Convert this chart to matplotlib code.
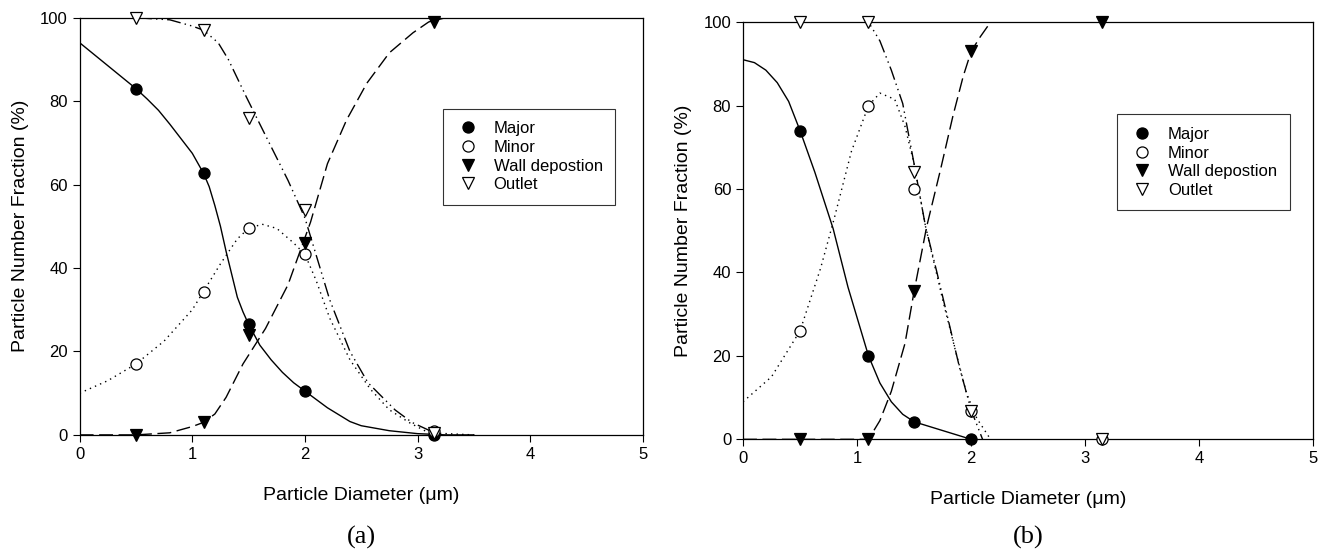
import numpy as np
import matplotlib.pyplot as plt
from matplotlib.lines import Line2D

plt.rcParams['font.family'] = ['Liberation Sans', 'DejaVu Sans']

# measured points (x = particle diameter, um)
x_pts = [0.5, 1.1, 1.5, 2.0, 3.15]

a_major = [83, 62.7, 26.5, 10.5, 0]
a_minor = [17, 34.3, 49.5, 43.3, 1]
a_wall = [0, 3, 24, 46, 99]
a_outlet = [100, 97, 76, 54, 0.5]

b_x_major = [0.5, 1.1, 1.5, 2.0]
b_major = [74, 20, 4.2, 0]
b_minor = [26, 80, 60, 6.7, 0]
b_wall = [0, 0, 35.5, 93, 100]
b_outlet = [100, 100, 64, 6.7, 0]

# fitted curves
a_major_cx = [0, 0.25, 0.5, 0.6, 0.7, 0.8, 0.9, 1.0, 1.1, 1.15, 1.2, 1.25, 1.3, 1.35, 1.4, 1.45,
              1.5, 1.6, 1.7, 1.8, 1.9, 2.0, 2.2, 2.4, 2.5, 2.75, 3.0, 3.25, 3.5]
a_major_cy = [94, 88.5, 83, 80.5, 77.8, 74.5, 71, 67.5, 62.7, 59.5, 55, 50, 44, 38.5, 33, 29.5,
              26.5, 21.5, 18, 15, 12.5, 10.5, 6.5, 3.2, 2.2, 1, 0.3, 0, 0]
a_minor_cx = [0, 0.25, 0.5, 0.75, 1.0, 1.25, 1.4, 1.5, 1.62, 1.75, 1.9, 2.0, 2.1, 2.22, 2.4,
              2.58, 2.75, 2.93, 3.1, 3.5]
a_minor_cy = [10, 13, 17, 22.5, 30, 41, 47, 49.5, 50.5, 49.5, 46, 43.3, 37, 28, 18,
              11, 6, 2.9, 0.5, 0]
a_wall_cx = [0, 0.5, 0.8, 1.0, 1.1, 1.2, 1.3, 1.45, 1.65, 1.85, 2.05, 2.2, 2.37, 2.55, 2.75,
             2.96, 3.1, 3.25, 3.5]
a_wall_cy = [0, 0, 0.5, 2, 3, 5, 9, 17, 25.5, 36, 51, 65, 75.5, 84.3, 91.6,
             96.4, 99, 100, 100]
a_outlet_cx = [0, 0.5, 0.8, 1.0, 1.1, 1.23, 1.32, 1.48, 1.67, 1.85, 2.0, 2.22, 2.4, 2.56, 2.8,
               2.95, 3.15]
a_outlet_cy = [100, 100, 99.5, 98, 97, 94, 90, 81, 70.7, 61, 52, 32.4, 20, 12.5, 6,
               3, 0.5]

b_major_cx = [0, 0.1, 0.2, 0.3, 0.4, 0.5, 0.63, 0.79, 0.92, 1.1, 1.2, 1.3, 1.4, 1.5, 2.0]
b_major_cy = [91, 90.3, 88.5, 85.5, 81, 74, 64, 50.5, 36.5, 20, 13.5, 9, 6, 4.2, 0]
b_minor_cx = [0, 0.25, 0.5, 0.68, 0.8, 0.95, 1.1, 1.2, 1.33, 1.42, 1.5, 1.6, 1.75, 1.86,
              1.96, 2.05, 2.17]
b_minor_cy = [9, 15, 26, 41, 53, 69, 80, 83, 81.5, 75, 66, 51, 33.5, 21.5,
              11, 5, 0]
b_wall_cx = [0, 0.5, 1.1, 1.2, 1.3, 1.42, 1.5, 1.61, 1.73, 1.84, 1.93, 2.0, 2.08, 2.17]
b_wall_cy = [0, 0, 0, 4.5, 11.5, 23, 35.5, 51, 64.5, 77.5, 87, 93, 96.5, 100]
b_outlet_cx = [0, 0.5, 1.1, 1.2, 1.3, 1.4, 1.5, 1.6, 1.7, 1.8, 1.9, 2.0, 2.1]
b_outlet_cy = [100, 100, 100, 95.5, 88.5, 80.5, 66, 51, 40, 28.5, 17, 7, 0]

labels = ['Major', 'Minor', 'Wall depostion', 'Outlet']

fig = plt.figure(figsize=(13.28, 5.54), dpi=100)
ax_a = fig.add_axes([0.060, 0.215, 0.424, 0.753])
ax_b = fig.add_axes([0.5595, 0.207, 0.4295, 0.753])

dots = (0, (1, 3))
dashes = (0, (10, 4))
dashdotdot = (0, (10, 3, 1, 3, 1, 3))


def draw(ax, curves, points, leg_anchor):
    styles = ['-', dots, dashes, dashdotdot]
    for (cx, cy), ls in zip(curves, styles):
        ax.plot(cx, cy, color='black', lw=1.0, ls=ls)
    mk = [('o', 'black'), ('o', 'white'), ('v', 'black'), ('v', 'white')]
    for (px, py), (m, fc) in zip(points, mk):
        ax.plot(px, py, ls='none', marker=m, ms=8, mfc=fc, mec='black',
                mew=0.9, clip_on=False, zorder=5)
    ax.set_xlim(0, 5)
    ax.set_ylim(0, 100)
    ax.set_xticks(range(6))
    ax.set_yticks(range(0, 101, 20))
    ax.tick_params(direction='out', length=5, width=0.8, labelsize=12)
    for s in ax.spines.values():
        s.set_linewidth(0.9)
    ax.set_xlabel('Particle Diameter (\u03bcm)', fontsize=14, labelpad=18)
    ax.set_ylabel('Particle Number Fraction (%)', fontsize=14, labelpad=8)
    handles = [Line2D([], [], ls='none', marker=m, ms=8, mfc=fc, mec='black', mew=0.9)
               for m, fc in mk]
    leg = ax.legend(handles, labels, loc='upper left', bbox_to_anchor=leg_anchor,
                    fontsize=12, frameon=True, fancybox=False, edgecolor='black',
                    borderpad=0.75, labelspacing=0.22, handlelength=1.5,
                    handletextpad=0.8, borderaxespad=0)
    leg.get_frame().set_linewidth(0.8)


draw(ax_a,
     [(a_major_cx, a_major_cy), (a_minor_cx, a_minor_cy),
      (a_wall_cx, a_wall_cy), (a_outlet_cx, a_outlet_cy)],
     [(x_pts, a_major), (x_pts, a_minor), (x_pts, a_wall), (x_pts, a_outlet)],
     (0.645, 0.782))
draw(ax_b,
     [(b_major_cx, b_major_cy), (b_minor_cx, b_minor_cy),
      (b_wall_cx, b_wall_cy), (b_outlet_cx, b_outlet_cy)],
     [(b_x_major, b_major), (x_pts, b_minor), (x_pts, b_wall), (x_pts, b_outlet)],
     (0.656, 0.779))

fig.text(0.272, 0.018, '(a)', fontsize=19, family='Liberation Serif', ha='center')
fig.text(0.774, 0.018, '(b)', fontsize=19, family='Liberation Serif', ha='center')

fig.savefig('out.png', dpi=100)
